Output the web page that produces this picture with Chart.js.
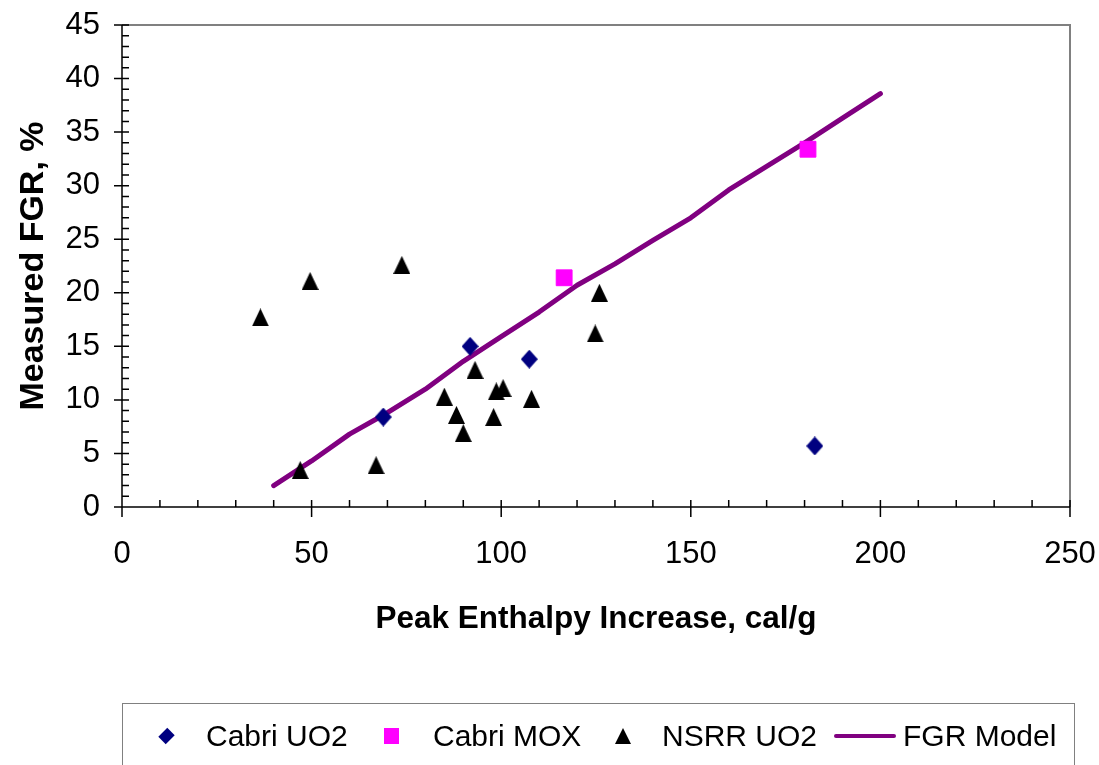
<!DOCTYPE html>
<html>
<head>
<meta charset="utf-8">
<script src="https://cdn.jsdelivr.net/npm/chart.js@4.4.1/dist/chart.umd.min.js"></script>
<style>
  html, body { margin: 0; padding: 0; background: #fff; }
  #wrap { position: relative; width: 1099px; height: 765px; overflow: hidden; font-family: "Liberation Sans", Arial, sans-serif; }
  #legend { position: absolute; left: 122px; top: 703px; width: 953px; height: 100px; border: 1px solid #808080; box-sizing: border-box; }
  .lg { position: absolute; top: 32px; transform: translateY(-50%); }
  .txt { font-size: 30px; line-height: 1; color: #000; white-space: nowrap; }
</style>
</head>
<body>
<div id="wrap">
  <canvas id="chart" width="1099" height="765"></canvas>
  <div id="legend"></div>
</div>
<script>
// series names
const seriesNames = ["Cabri UO2", "Cabri MOX", "NSRR UO2", "FGR Model"];

// Cabri UO2 (diamonds)
const cabriUO2X = [68.9, 91.8, 107.4, 182.7];
const cabriUO2Y = [8.4, 15.0, 13.8, 5.7];

// Cabri MOX (squares)
const cabriMOXX = [116.6, 180.9];
const cabriMOXY = [21.4, 33.4];

// NSRR UO2 (triangles)
const nsrrX = [36.5, 49.6, 73.8, 47.0, 67.0, 85.0, 88.2, 90.0, 93.1, 98.0, 98.7, 100.5, 108.0, 124.8, 125.9];
const nsrrY = [17.7, 21.1, 22.6, 3.45, 3.9, 10.3, 8.6, 6.9, 12.8, 8.4, 10.8, 11.1, 10.1, 16.2, 20.0];

// FGR model curve
const modelX = [40, 50, 60, 70, 80, 90, 100, 110, 120, 130, 140, 150, 160, 170, 180, 190, 200];
const modelY = [2.0, 4.3, 6.8, 8.8, 11.0, 13.6, 15.9, 18.2, 20.7, 22.7, 24.9, 27.0, 29.6, 31.8, 34.0, 36.3, 38.6];

// axis ticks
const xTicks = [0, 50, 100, 150, 200, 250];
const yTicks = [0, 5, 10, 15, 20, 25, 30, 35, 40, 45];

const FONT = '"Liberation Sans", Arial, sans-serif';
const pts = (xs, ys) => xs.map((x, i) => ({x: x, y: ys[i]}));

// marker images, centred on their bounding box like the spreadsheet ones
function markerImg(w, h, color, shape) {
    const c = document.createElement("canvas");
    c.width = w; c.height = h;
    const g = c.getContext("2d");
    g.fillStyle = color;
    g.beginPath();
    if (shape === "triangle") {
        g.moveTo(w / 2, 0);
        g.lineTo(w, h);
        g.lineTo(0, h);
    } else {
        g.moveTo(w / 2, 0);
        g.lineTo(w, h / 2);
        g.lineTo(w / 2, h);
        g.lineTo(0, h / 2);
    }
    g.closePath();
    g.fill();
    return c;
}

// axes, minor ticks and plot frame
const frame = {
    id: "frame",
    beforeDatasetsDraw(chart) {
        const {ctx, chartArea: a, scales: {x, y}} = chart;
        ctx.save();
        ctx.strokeStyle = "#808080";
        ctx.lineWidth = 2;
        ctx.beginPath();
        ctx.moveTo(a.left, a.top);
        ctx.lineTo(a.right, a.top);
        ctx.lineTo(a.right, a.bottom);
        ctx.stroke();

        ctx.strokeStyle = "#000";
        ctx.lineWidth = 1.5;
        ctx.beginPath();
        ctx.moveTo(a.left, a.top);
        ctx.lineTo(a.left, a.bottom);
        ctx.lineTo(a.right, a.bottom);
        for (let v = 0; v <= 45; v++) {
            const py = y.getPixelForValue(v);
            ctx.moveTo(v % 5 === 0 ? a.left - 8 : a.left, py);
            ctx.lineTo(a.left + 7, py);
        }
        for (let v = 0; v <= 250; v += 10) {
            const px = x.getPixelForValue(v);
            ctx.moveTo(px, v % 50 === 0 ? a.bottom + 10 : a.bottom);
            ctx.lineTo(px, a.bottom - 7);
        }
        ctx.stroke();
        ctx.restore();
    }
};

new Chart(document.getElementById("chart").getContext("2d"), {
    type: "scatter",
    data: {
        datasets: [
            {
                label: seriesNames[0],
                data: pts(cabriUO2X, cabriUO2Y),
                pointStyle: markerImg(17, 19, "#000080", "diamond"),
                pointRadius: 9,
                order: 0
            },
            {
                label: seriesNames[1],
                data: pts(cabriMOXX, cabriMOXY),
                pointStyle: "rect",
                pointRadius: 11.2,
                backgroundColor: "#FF00FF",
                borderColor: "#FF00FF",
                borderWidth: 1,
                order: 0
            },
            {
                label: seriesNames[2],
                data: pts(nsrrX, nsrrY),
                pointStyle: markerImg(17, 18, "#000", "triangle"),
                pointRadius: 9,
                order: 0
            },
            {
                label: seriesNames[3],
                type: "line",
                data: pts(modelX, modelY),
                borderColor: "#800080",
                borderWidth: 5,
                borderCapStyle: "round",
                borderJoinStyle: "round",
                pointRadius: 0,
                tension: 0,
                fill: false,
                order: 2
            }
        ]
    },
    options: {
        responsive: false,
        animation: false,
        layout: {padding: {top: 25, right: 29, bottom: 105, left: 0}},
        plugins: {
            legend: {display: false},
            tooltip: {enabled: false}
        },
        scales: {
            x: {
                type: "linear",
                min: 0,
                max: 250,
                afterBuildTicks: (s) => { s.ticks = xTicks.map(v => ({value: v})); },
                afterFit: (s) => { s.height = 153; s.paddingLeft = 0; s.paddingRight = 0; },
                ticks: {padding: 21, maxRotation: 0, color: "#000", font: {family: FONT, size: 31}},
                grid: {display: false},
                border: {display: false},
                title: {
                    display: true,
                    text: "Peak Enthalpy Increase, cal/g",
                    color: "#000",
                    font: {family: FONT, size: 31.5, weight: "bold"},
                    padding: {top: 0, bottom: 22}
                }
            },
            y: {
                type: "linear",
                min: 0,
                max: 45,
                afterBuildTicks: (s) => { s.ticks = yTicks.map(v => ({value: v})); },
                afterFit: (s) => { s.width = 122; s.paddingTop = 0; s.paddingBottom = 0; },
                ticks: {padding: 14, color: "#000", font: {family: FONT, size: 31}},
                grid: {display: false},
                border: {display: false},
                title: {
                    display: true,
                    text: "Measured FGR, %",
                    color: "#000",
                    font: {family: FONT, size: 34, weight: "bold"},
                    padding: {top: 13, bottom: 0}
                }
            }
        }
    },
    plugins: [frame]
});

// legend box under the chart
const legend = document.getElementById("legend");
const markers = [
    '<div style="width:11px;height:11px;background:#000080;transform:rotate(45deg) scale(0.95,1.15);"></div>',
    '<div style="width:15px;height:16px;background:#FF00FF;"></div>',
    '<div style="width:0;height:0;border-left:8px solid transparent;border-right:8px solid transparent;border-bottom:16px solid #000;"></div>',
    '<div style="width:62px;height:4px;background:#800080;border-radius:2px;"></div>'
];
const markerCenters = [43, 268, 500, 742];
const textLefts = [83, 310, 539, 780];
seriesNames.forEach((name, i) => {
    const m = document.createElement("div");
    m.className = "lg";
    m.innerHTML = markers[i];
    legend.appendChild(m);
    m.style.left = (markerCenters[i] - m.offsetWidth / 2) + "px";
    const t = document.createElement("div");
    t.className = "lg txt";
    t.textContent = name;
    t.style.left = textLefts[i] + "px";
    legend.appendChild(t);
});
</script>
</body>
</html>
